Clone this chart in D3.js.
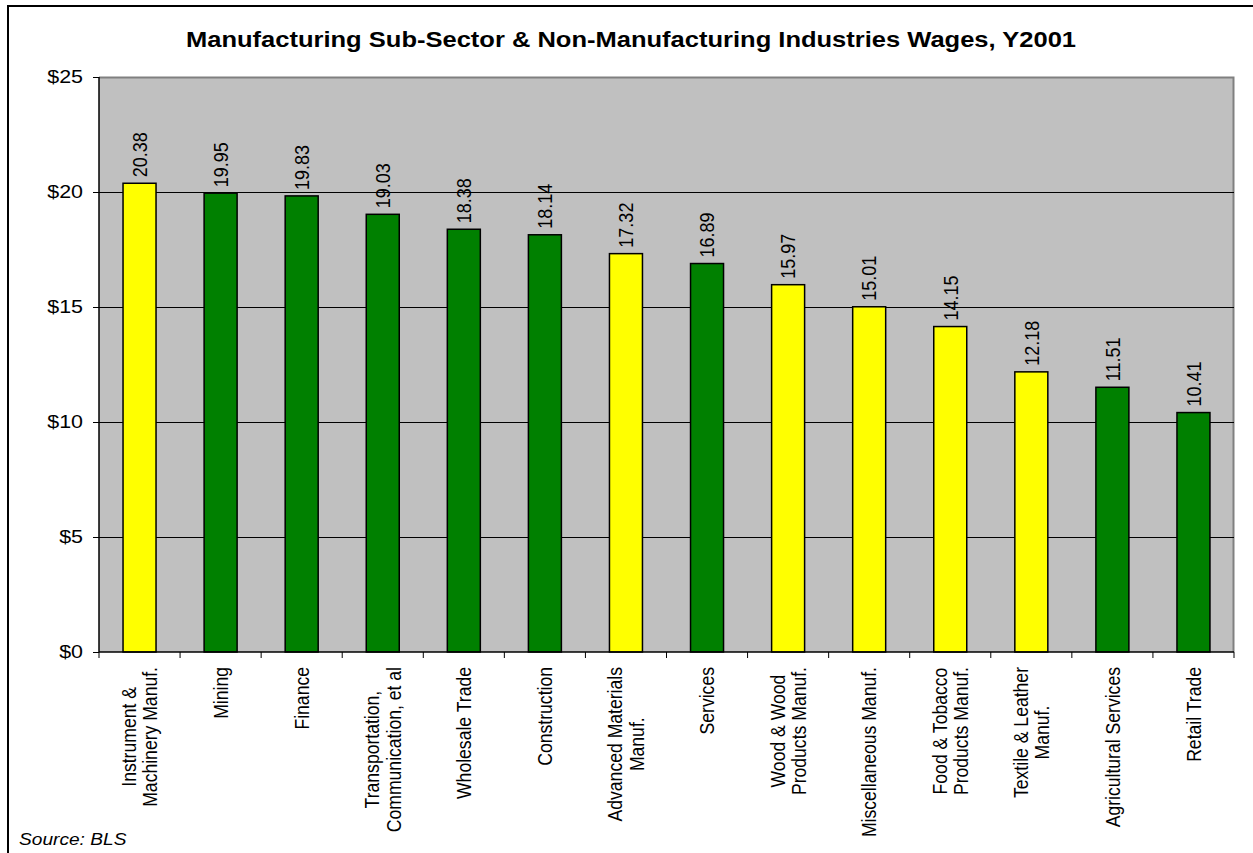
<!DOCTYPE html>
<html>
<head>
<meta charset="utf-8">
<script src="https://cdn.jsdelivr.net/npm/d3@7"></script>
<style>
  body { margin: 0; background: #fff; }
  text { font-family: Arial, "Liberation Sans", sans-serif; fill: #000; }
</style>
</head>
<body>
<svg id="chart" width="1253" height="853"></svg>
<script>
// chart data
var categories = [
  ["Instrument &", "Machinery Manuf."],
  ["Mining"],
  ["Finance"],
  ["Transportation,", "Communication, et al"],
  ["Wholesale Trade"],
  ["Construction"],
  ["Advanced Materials", "Manuf."],
  ["Services"],
  ["Wood & Wood", "Products Manuf."],
  ["Miscellaneous Manuf."],
  ["Food & Tobacco", "Products Manuf."],
  ["Textile & Leather", "Manuf."],
  ["Agricultural Services"],
  ["Retail Trade"]
];
var wages = [20.38, 19.95, 19.83, 19.03, 18.38, 18.14, 17.32, 16.89, 15.97, 15.01, 14.15, 12.18, 11.51, 10.41];
var isManuf = [true, false, false, false, false, false, true, false, true, true, true, true, false, false];
var yTicks = [0, 5, 10, 15, 20, 25];
var title = "Manufacturing Sub-Sector & Non-Manufacturing Industries Wages, Y2001";

var margin = {top: 77, right: 19, bottom: 201, left: 99};
var W = 1253, H = 853;
var visWidth = W - margin.left - margin.right;
var visHeight = H - margin.top - margin.bottom;
var sx = 1.16; // the original picture's text is a little wider than tall

var svg = d3.select("#chart");

// outer frame
svg.append("rect")
   .attr("x", 8).attr("y", 6)
   .attr("width", W).attr("height", H)
   .attr("fill", "none").attr("stroke", "#000").attr("stroke-width", 2);

svg.append("text")
   .attr("transform", "translate(631,47) scale(" + sx + ",1)")
   .attr("text-anchor", "middle")
   .style("font-size", "22px").style("font-weight", "bold")
   .text(title);

var g = svg.append("g")
   .attr("transform", "translate(" + margin.left + "," + margin.top + ")");

var idx = d3.range(wages.length);
var x = d3.scaleBand().domain(idx).range([0, visWidth]).paddingInner(0).paddingOuter(0);
var y = d3.scaleLinear().domain([0, 25]).range([visHeight, 0]);

g.append("rect")
   .attr("width", visWidth).attr("height", visHeight)
   .attr("fill", "#c0c0c0");
// plot area grey edge at top/right
g.append("path")
   .attr("d", "M0,0.5H" + (visWidth - 0.5) + "V" + visHeight)
   .attr("fill", "none").attr("stroke", "#808080").attr("stroke-width", 2);

g.selectAll(".grid")
   .data(yTicks.filter(function(d) { return d > 0 && d < 25; }))
   .enter().append("line")
   .attr("x1", 0).attr("x2", visWidth)
   .attr("y1", function(d) { return Math.round(y(d)) + 0.5; })
   .attr("y2", function(d) { return Math.round(y(d)) + 0.5; })
   .attr("stroke", "#000").attr("stroke-width", 1);

var barW = 33;
g.selectAll(".bar")
   .data(idx)
   .enter().append("rect")
   .attr("class", "bar")
   .attr("x", function(i) { return x(i) + (x.bandwidth() - barW) / 2; })
   .attr("y", function(i) { return y(wages[i]); })
   .attr("width", barW)
   .attr("height", function(i) { return y(0) - y(wages[i]); })
   .attr("fill", function(i) { return isManuf[i] ? "#ffff00" : "#008000"; })
   .attr("stroke", "#000").attr("stroke-width", 1.5);

g.selectAll(".val")
   .data(idx)
   .enter().append("text")
   .attr("class", "val")
   .attr("transform", function(i) {
     return "translate(" + (x(i) + x.bandwidth() / 2) + "," + (y(wages[i]) - 6) + ") scale(" + sx + ",1) rotate(-90)";
   })
   .attr("dy", "0.35em")
   .style("font-size", "18px")
   .text(function(i) { return wages[i].toFixed(2); });

// y axis
var yAxis = g.append("g")
   .call(d3.axisLeft(y).tickValues(yTicks).tickSize(6).tickPadding(0)
         .tickFormat(function(d) { return "$" + d; }));
yAxis.select(".domain").attr("stroke", "#000").attr("stroke-width", 1.5).attr("d", "M0,0V" + visHeight);
yAxis.selectAll("text")
   .attr("x", null)
   .attr("transform", "translate(-16,0) scale(" + sx + ",1)")
   .style("font-size", "18.5px").style("font-family", "Arial, 'Liberation Sans', sans-serif");

// x axis
var xAxis = g.append("g").attr("transform", "translate(0," + visHeight + ")");
xAxis.append("line").attr("x1", 0).attr("x2", visWidth).attr("stroke", "#000").attr("stroke-width", 1.5);
xAxis.selectAll(".xt")
   .data(d3.range(wages.length + 1))
   .enter().append("line")
   .attr("x1", function(i) { return i * x.bandwidth(); })
   .attr("x2", function(i) { return i * x.bandwidth(); })
   .attr("y1", 0).attr("y2", 6)
   .attr("stroke", "#000");

var lineH = 18.5;
var labels = xAxis.selectAll(".cat")
   .data(idx)
   .enter().append("g")
   .attr("class", "cat")
   .attr("transform", function(i) {
     return "translate(" + (x(i) + x.bandwidth() / 2) + ",15) scale(" + sx + ",1) rotate(-90)";
   });

labels.each(function(i) {
  var lines = categories[i];
  var grp = d3.select(this);
  var ts = lines.map(function(s, k) {
    return grp.append("text")
      .style("font-size", "17.6px")
      .attr("text-anchor", "middle")
      .attr("dy", "0.35em")
      .attr("y", (k - (lines.length - 1) / 2) * lineH)
      .text(s);
  });
  var L = d3.max(ts, function(t) { return t.node().getComputedTextLength(); });
  ts.forEach(function(t) { t.attr("x", -L / 2); });
});

svg.append("text")
   .attr("transform", "translate(19,845) scale(" + sx + ",1)")
   .style("font-size", "16.5px").style("font-style", "italic")
   .text("Source: BLS");
</script>
</body>
</html>
